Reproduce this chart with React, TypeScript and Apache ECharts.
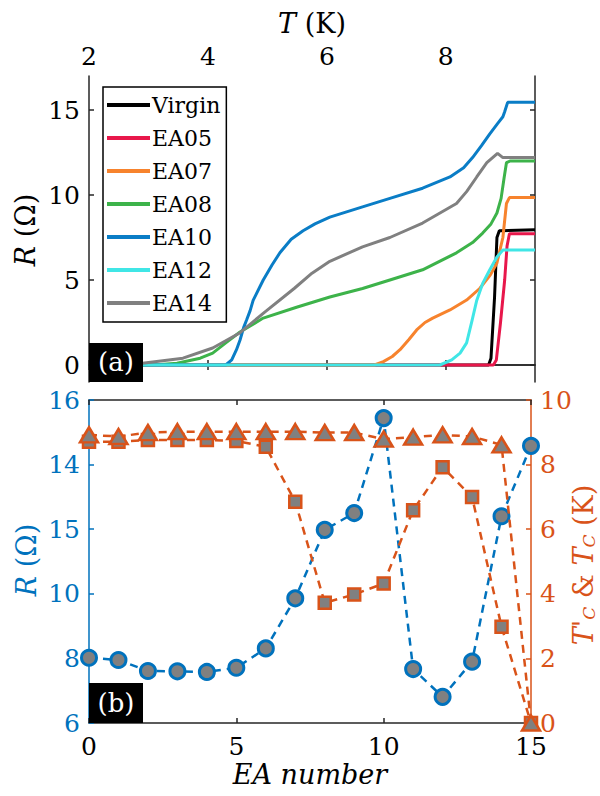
import React, { useEffect, useRef } from 'react';
import * as echarts from 'echarts';

// ---------- panel (a): R vs T ----------
const curveNames = ['Virgin', 'EA05', 'EA07', 'EA08', 'EA10', 'EA12', 'EA14'];
const curveColors = ['#000000', '#E8174B', '#F7832D', '#3DB34A', '#0A7DC6', '#40E6E6', '#808080'];

const virgin = [[2, 0], [8.72, 0], [8.76, 0.4], [8.82, 4], [8.86, 7.5], [8.9, 7.9], [9.5, 7.95]];
const ea05 = [[2, 0], [8.8, 0], [8.85, 0.3], [8.92, 2.5], [8.99, 5], [9.03, 7.0], [9.07, 7.72], [9.5, 7.72]];
const ea07 = [[2, 0], [6.8, 0], [6.95, 0.2], [7.1, 0.5], [7.23, 0.9], [7.38, 1.5], [7.51, 2.06], [7.65, 2.5],
  [7.78, 2.76], [8.07, 3.24], [8.35, 3.82], [8.57, 4.5], [8.75, 5.3], [8.86, 6.0], [8.96, 7.5], [9.02, 9.5],
  [9.07, 9.85], [9.5, 9.85]];
const ea08 = [[2, 0], [2.8, 0], [3.2, 0.03], [3.48, 0.1], [3.87, 0.4], [4.08, 0.7], [4.3, 1.3], [4.54, 1.94],
  [4.93, 2.76], [5.49, 3.4], [6.05, 4.0], [6.6, 4.5], [7.06, 5.0], [7.61, 5.6], [8.18, 6.6], [8.45, 7.2],
  [8.62, 7.76], [8.76, 8.3], [8.86, 8.94], [8.93, 9.8], [8.98, 11], [9.02, 11.9], [9.08, 12.0], [9.5, 12.0]];
const ea10 = [[2, 0], [4.3, 0], [4.4, 0.3], [4.48, 0.9], [4.54, 1.47], [4.6, 2.2], [4.65, 2.65], [4.71, 3.2],
  [4.76, 3.8], [4.93, 5.0], [5.08, 5.9], [5.21, 6.6], [5.4, 7.4], [5.6, 7.9], [5.8, 8.3], [6.05, 8.7], [6.6, 9.3],
  [7.06, 9.8], [7.61, 10.4], [8.07, 11.06], [8.3, 11.6], [8.45, 12.2], [8.6, 12.9], [8.74, 13.6], [8.87, 14.2],
  [8.96, 14.6], [8.99, 14.9], [9.04, 15.45], [9.5, 15.45]];
const ea12 = [[2, 0], [7.9, 0], [8.1, 0.3], [8.24, 0.7], [8.35, 1.3], [8.44, 2.6], [8.52, 3.8], [8.62, 4.8],
  [8.74, 5.6], [8.86, 6.35], [8.96, 6.76], [9.5, 6.76]];
const ea14 = [[2, 0], [2.6, 0.02], [2.9, 0.1], [3.58, 0.4], [4.08, 1.0], [4.54, 1.9], [4.95, 3.1], [5.45, 4.5],
  [5.75, 5.4], [6.05, 6.1], [6.6, 6.95], [7.06, 7.5], [7.61, 8.35], [8.18, 9.5], [8.35, 10.2], [8.52, 11.06],
  [8.69, 11.9], [8.87, 12.45], [8.96, 12.2], [9.5, 12.2]];
const curves = [virgin, ea05, ea07, ea08, ea10, ea12, ea14];

const topXTicks = [2, 4, 6, 8];
const topYTicks = [0, 5, 10, 15];

// ---------- panel (b): vs EA number ----------
const eaNumbers = [0, 1, 2, 3, 4, 5, 6, 7, 8, 9, 10, 11, 12, 13, 14, 15];
const resistance = [8.02, 7.95, 7.61, 7.6, 7.58, 7.71, 8.31, 9.86, 11.98, 12.5, 15.44, 7.67, 6.81, 7.9, 12.4, 14.58];
const tcPrime = [8.71, 8.71, 8.76, 8.76, 8.76, 8.73, 8.55, 6.85, 3.72, 3.98, 4.32, 6.59, 7.92, 7.0, 2.98, 0];
const tc = [8.92, 8.87, 8.99, 9.02, 9.02, 9.02, 9.02, 9.02, 8.99, 8.99, 8.79, 8.85, 8.92, 8.87, 8.61, 0];
const leftTickValues = [6, 8, 10, 12, 14, 16];
const leftTickLabels = ['6', '8', '10', '15', '14', '16'];

const FONT = '"DejaVu Serif", serif';
const BLUE = '#0072BD';
const ORANGE = '#D95319';
const AXIS = '#262626';

export default function App() {
  const ref = useRef<HTMLDivElement>(null);
  useEffect(() => {
    if (!ref.current) return;
    const chart = echarts.init(ref.current, undefined, { renderer: 'svg' });

    const tickLabel = (color: string) => ({ color, fontFamily: FONT, fontSize: 25 });

    const option: any = {
      animation: false,
      backgroundColor: '#fff',
      grid: [
        { left: 89, top: 76, width: 446, height: 306 },
        { left: 89, top: 400, width: 442, height: 323 },
      ],
      xAxis: [
        {
          gridIndex: 0, type: 'value', position: 'top', min: 2, max: 9.5,
          axisLine: { show: true, lineStyle: { color: AXIS, width: 1.5 } },
          axisTick: { show: true, inside: true, length: 5, customValues: topXTicks, lineStyle: { color: AXIS, width: 1.5 } },
          axisLabel: { ...tickLabel('#000'), margin: 7, customValues: topXTicks },
          splitLine: { show: false },
        },
        {
          gridIndex: 0, type: 'value', position: 'bottom', min: 2, max: 9.5,
          axisLine: { show: true, lineStyle: { color: AXIS, width: 1.5 } },
          axisTick: { show: true, inside: true, length: 5, customValues: topXTicks, lineStyle: { color: AXIS, width: 1.5 } },
          axisLabel: { show: false },
          splitLine: { show: false },
        },
        {
          gridIndex: 1, type: 'value', position: 'bottom', min: 0, max: 15, interval: 5,
          axisLine: { show: true, onZero: false, lineStyle: { color: AXIS, width: 1.5 } },
          axisTick: { show: true, inside: true, length: 5, lineStyle: { color: AXIS, width: 1.5 } },
          axisLabel: { ...tickLabel('#000'), margin: 11 },
          splitLine: { show: false },
        },
        {
          gridIndex: 1, type: 'value', position: 'top', min: 0, max: 15, interval: 5,
          axisLine: { show: true, onZero: false, lineStyle: { color: AXIS, width: 1.5 } },
          axisTick: { show: true, inside: true, length: 5, lineStyle: { color: AXIS, width: 1.5 } },
          axisLabel: { show: false },
          splitLine: { show: false },
        },
      ],
      yAxis: [
        {
          gridIndex: 0, type: 'value', position: 'left', min: -1, max: 17,
          axisLine: { show: true, onZero: false, lineStyle: { color: AXIS, width: 1.5 } },
          axisTick: { show: true, inside: true, length: 5, customValues: topYTicks, lineStyle: { color: AXIS, width: 1.5 } },
          axisLabel: { ...tickLabel('#000'), margin: 9, customValues: topYTicks },
          splitLine: { show: false },
        },
        {
          gridIndex: 0, type: 'value', position: 'right', min: -1, max: 17,
          axisLine: { show: true, onZero: false, lineStyle: { color: AXIS, width: 1.5 } },
          axisTick: { show: true, inside: true, length: 5, customValues: topYTicks, lineStyle: { color: AXIS, width: 1.5 } },
          axisLabel: { show: false },
          splitLine: { show: false },
        },
        {
          gridIndex: 1, type: 'value', position: 'left', min: 6, max: 16, interval: 2,
          axisLine: { show: true, onZero: false, lineStyle: { color: BLUE, width: 1.5 } },
          axisTick: { show: true, inside: true, length: 5, lineStyle: { color: BLUE, width: 1.5 } },
          axisLabel: {
            ...tickLabel(BLUE), margin: 9,
            formatter: (v: number) => {
              const i = leftTickValues.indexOf(v);
              return i >= 0 ? leftTickLabels[i] : '';
            },
          },
          splitLine: { show: false },
        },
        {
          gridIndex: 1, type: 'value', position: 'right', min: 0, max: 10, interval: 2,
          axisLine: { show: true, onZero: false, lineStyle: { color: ORANGE, width: 1.5 } },
          axisTick: { show: true, inside: true, length: 5, lineStyle: { color: ORANGE, width: 1.5 } },
          axisLabel: { ...tickLabel(ORANGE), margin: 9 },
          splitLine: { show: false },
        },
      ],
      legend: {
        left: 103, top: 87, orient: 'vertical', selectedMode: false,
        icon: 'rect', itemWidth: 43, itemHeight: 4, itemGap: 11,
        borderColor: '#000', borderWidth: 1.5, backgroundColor: '#fff',
        padding: [7, 6, 8, 4], borderRadius: 0,
        textStyle: { fontFamily: FONT, fontSize: 22, color: '#000', padding: [0, 0, 0, -3] },
        data: curveNames,
      },
      series: [
        ...curveNames.map((name, i) => ({
          name, type: 'line', xAxisIndex: 0, yAxisIndex: 0,
          data: curves[i], showSymbol: false, symbol: 'none',
          lineStyle: { color: curveColors[i], width: 3 },
          itemStyle: { color: curveColors[i] },
          z: 2 + i,
        })),
        {
          name: 'R', type: 'line', xAxisIndex: 2, yAxisIndex: 2,
          data: eaNumbers.map((e, i) => [e, resistance[i]]),
          symbol: 'circle', symbolSize: 15, clip: false,
          lineStyle: { color: BLUE, width: 2.5, type: [8, 6] },
          itemStyle: { color: '#808080', borderColor: BLUE, borderWidth: 3 },
          z: 3,
        },
        {
          name: "T'c", type: 'line', xAxisIndex: 2, yAxisIndex: 3,
          data: eaNumbers.map((e, i) => [e, tcPrime[i]]),
          symbol: 'rect', symbolSize: 12, clip: false,
          lineStyle: { color: ORANGE, width: 2.5, type: [8, 6] },
          itemStyle: { color: '#808080', borderColor: ORANGE, borderWidth: 2.5 },
          z: 4,
        },
        {
          name: 'Tc', type: 'line', xAxisIndex: 2, yAxisIndex: 3,
          data: eaNumbers.map((e, i) => [e, tc[i]]),
          symbol: 'triangle', symbolSize: [18, 15], clip: false,
          lineStyle: { color: ORANGE, width: 2.5, type: [8, 6] },
          itemStyle: { color: '#808080', borderColor: ORANGE, borderWidth: 2.5 },
          z: 5,
        },
      ],
      graphic: [
        { type: 'rect', z: 100, shape: { x: 89, y: 343, width: 54, height: 39 }, style: { fill: '#000' } },
        { type: 'text', z: 101, x: 116, y: 362, style: { text: '(a)', fill: '#fff', font: `26px ${FONT}`, textAlign: 'center', textVerticalAlign: 'middle' } },
        { type: 'rect', z: 100, shape: { x: 89, y: 683, width: 54, height: 40 }, style: { fill: '#000' } },
        { type: 'text', z: 101, x: 116, y: 703, style: { text: '(b)', fill: '#fff', font: `26px ${FONT}`, textAlign: 'center', textVerticalAlign: 'middle' } },
        {
          type: 'text', x: 312, y: 23,
          style: {
            text: '{i|T} (K)', fill: '#000', font: `27px ${FONT}`, textAlign: 'center', textVerticalAlign: 'middle',
            rich: { i: { fontStyle: 'italic', fontFamily: FONT, fontSize: 27 } },
          },
        },
        {
          type: 'text', x: 25, y: 230, rotation: Math.PI / 2,
          style: {
            text: '{i|R} (Ω)', fill: '#000', font: `27px ${FONT}`, textAlign: 'center', textVerticalAlign: 'middle',
            rich: { i: { fontStyle: 'italic', fontFamily: FONT, fontSize: 27 } },
          },
        },
        {
          type: 'text', x: 26, y: 560, rotation: Math.PI / 2,
          style: {
            text: '{i|R} (Ω)', fill: BLUE, font: `27px ${FONT}`, textAlign: 'center', textVerticalAlign: 'middle',
            rich: { i: { fontStyle: 'italic', fontFamily: FONT, fontSize: 27, fill: BLUE } },
          },
        },
        {
          type: 'text', x: 583, y: 565, rotation: Math.PI / 2,
          style: {
            text: "{i|T'}{s|C} & {i|T}{s|C} (K)", fill: ORANGE, font: `27px ${FONT}`, textAlign: 'center', textVerticalAlign: 'middle',
            rich: {
              i: { fontStyle: 'italic', fontFamily: FONT, fontSize: 27, fill: ORANGE },
              s: { fontStyle: 'italic', fontFamily: FONT, fontSize: 17, fill: ORANGE, padding: [11, 0, 0, 0] },
            },
          },
        },
        {
          type: 'text', x: 310, y: 774,
          style: {
            text: 'EA number', fill: '#000', font: `italic 27px ${FONT}`, textAlign: 'center', textVerticalAlign: 'middle',
          },
        },
      ],
    };
    chart.setOption(option);
    return () => chart.dispose();
  }, []);
  return <div ref={ref} style={{ width: 600, height: 796, position: 'absolute', left: 0, top: 0 }} />;
}
